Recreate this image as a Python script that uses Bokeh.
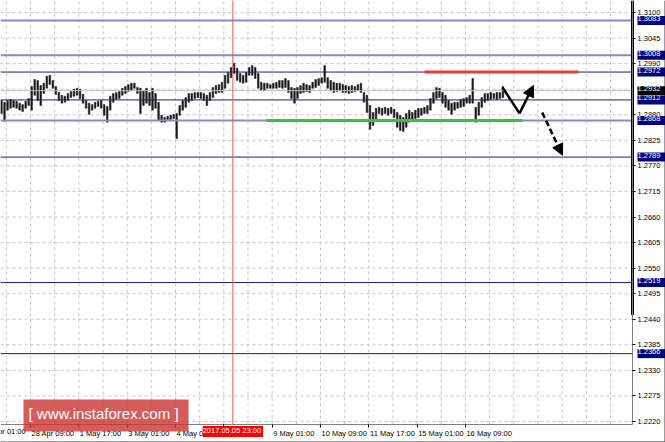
from bokeh.plotting import figure
from bokeh.models import (Range1d, FixedTicker, Label, Arrow, NormalHead, LinearAxis,
                          NumeralTickFormatter, ColumnDataSource)
from bokeh.embed import file_html
from bokeh.resources import INLINE

# ---------------- data (GBP/USD H1; one bar per 2 hours) ----------------
bar_hours = list(range(0, 334, 2))
bar_high = [
    1.2911, 1.2907, 1.2911, 1.2913, 1.2911, 1.2909, 1.2905, 1.2902, 1.2909, 1.2915, 1.2941, 1.2956, 1.2954, 1.2943, 1.2948,
    1.2963, 1.2965, 1.2954, 1.2941, 1.2928, 1.2922, 1.2920, 1.2926, 1.2930, 1.2935, 1.2937, 1.2935, 1.2924, 1.2911, 1.2905,
    1.2902, 1.2907, 1.2909, 1.2911, 1.2902, 1.2898, 1.2920, 1.2926, 1.2928, 1.2930, 1.2937, 1.2941, 1.2945,
    1.2948, 1.2948, 1.2939, 1.2937, 1.2932, 1.2937, 1.2928, 1.2937, 1.2926, 1.2907, 1.2879, 1.2874, 1.2877, 1.2879, 1.2881,
    1.2883, 1.2900, 1.2911, 1.2917, 1.2926, 1.2926, 1.2928, 1.2928, 1.2928, 1.2926, 1.2922, 1.2928, 1.2939, 1.2943, 1.2945,
    1.2950, 1.2965, 1.2971, 1.2982, 1.2991, 1.2980, 1.2969, 1.2965, 1.2971, 1.2982, 1.2986,
    1.2982, 1.2969, 1.2950, 1.2948, 1.2948, 1.2945, 1.2948, 1.2950, 1.2954, 1.2954, 1.2958, 1.2954, 1.2939, 1.2937, 1.2939,
    1.2943, 1.2948, 1.2945, 1.2943, 1.2950, 1.2956, 1.2958, 1.2960, 1.2986, 1.2960, 1.2954, 1.2950, 1.2948, 1.2948, 1.2945,
    1.2943, 1.2941, 1.2943, 1.2941, 1.2945, 1.2948, 1.2928, 1.2922, 1.2900, 1.2885, 1.2894,
    1.2896, 1.2894, 1.2896, 1.2894, 1.2896, 1.2892, 1.2885, 1.2879, 1.2874, 1.2883, 1.2890, 1.2885, 1.2890, 1.2894, 1.2894,
    1.2896, 1.2900, 1.2915, 1.2928, 1.2939, 1.2937, 1.2928, 1.2922, 1.2911, 1.2905, 1.2907, 1.2907, 1.2913, 1.2915, 1.2917,
    1.2922, 1.2958, 1.2896, 1.2907, 1.2917, 1.2926, 1.2926, 1.2928, 1.2926, 1.2928, 1.2928, 1.2941,
]
bar_low = [
    1.2883, 1.2866, 1.2890, 1.2894, 1.2896, 1.2894, 1.2890, 1.2887, 1.2894, 1.2900, 1.2890, 1.2922, 1.2911, 1.2900, 1.2926,
    1.2937, 1.2945, 1.2937, 1.2924, 1.2911, 1.2905, 1.2907, 1.2911, 1.2917, 1.2920, 1.2922, 1.2915, 1.2905, 1.2894, 1.2881,
    1.2890, 1.2894, 1.2898, 1.2894, 1.2879, 1.2864, 1.2890, 1.2907, 1.2913, 1.2915, 1.2922, 1.2926, 1.2930,
    1.2932, 1.2937, 1.2926, 1.2883, 1.2900, 1.2905, 1.2900, 1.2890, 1.2894, 1.2868, 1.2864, 1.2864, 1.2868, 1.2870, 1.2872,
    1.2829, 1.2879, 1.2890, 1.2896, 1.2907, 1.2911, 1.2915, 1.2917, 1.2915, 1.2911, 1.2900, 1.2911, 1.2917, 1.2926, 1.2928,
    1.2928, 1.2937, 1.2948, 1.2960, 1.2969, 1.2954, 1.2950, 1.2948, 1.2950, 1.2965, 1.2965,
    1.2958, 1.2937, 1.2932, 1.2932, 1.2937, 1.2937, 1.2937, 1.2937, 1.2939, 1.2937, 1.2939, 1.2928, 1.2915, 1.2905, 1.2915,
    1.2926, 1.2928, 1.2930, 1.2928, 1.2937, 1.2939, 1.2943, 1.2948, 1.2950, 1.2937, 1.2932, 1.2928, 1.2930, 1.2932, 1.2928,
    1.2928, 1.2926, 1.2928, 1.2930, 1.2932, 1.2928, 1.2907, 1.2885, 1.2849, 1.2857, 1.2868,
    1.2883, 1.2879, 1.2883, 1.2879, 1.2883, 1.2874, 1.2853, 1.2846, 1.2844, 1.2853, 1.2864, 1.2868, 1.2872, 1.2874, 1.2879,
    1.2883, 1.2883, 1.2890, 1.2905, 1.2915, 1.2917, 1.2905, 1.2896, 1.2890, 1.2881, 1.2890, 1.2894, 1.2896, 1.2898, 1.2905,
    1.2905, 1.2905, 1.2864, 1.2879, 1.2896, 1.2907, 1.2911, 1.2913, 1.2915, 1.2913, 1.2915, 1.2917,
]
assert len(bar_hours) == len(bar_high) == len(bar_low)

level_prices = [1.3083, 1.3008, 1.2972, 1.2912, 1.2868, 1.2789, 1.2519, 1.2366]
level_strong = [True, True, False, False, True, False, False, False]
current_price = 1.2932

price_ticks = [1.3100, 1.3045, 1.2990, 1.2935, 1.2880, 1.2825, 1.2770, 1.2715, 1.2660,
               1.2605, 1.2550, 1.2495, 1.2440, 1.2385, 1.2330, 1.2275, 1.2220]

time_tick_hours = [-12.8, 19.2, 51.2, 83.2, 115.2, 147.2, 179.2, 211.2, 243.2, 275.2, 307.2]
time_tick_labels = ["27 Apr 01:00", "28 Apr 09:00", "1 May 17:00", "3 May 01:00", "4 May 09:00",
                    "5 May 17:00", "9 May 01:00", "10 May 09:00", "11 May 17:00", "15 May 01:00",
                    "16 May 09:00"]

marker_hour = 153.2
marker_label = "2017.05.05 23:00"

support_hours = [175.4, 344.9]
support_price = 1.2868
resistance_hours = [280.1, 382.0]
resistance_price = 1.2972
up_path_hours = [331.7, 343.0, 352.2]
up_path_prices = [1.2939, 1.2883, 1.2943]
down_path_hours = [358.0, 371.4]
down_path_prices = [1.2885, 1.2793]
scroll_bottom_price = 1.2449

# ---------------- geometry ----------------
W, H = 665, 442
PLOT_W, PLOT_H = 632, 424          # price area; the rest is the axis strips
x_lo, x_plot_hi = -0.66, 417.8
y_plot_lo, y_hi = 1.22135, 1.3126
px_per_hour = PLOT_W / (x_plot_hi - x_lo)
px_per_unit = PLOT_H / (y_hi - y_plot_lo)
x_full_hi = x_lo + W / px_per_hour
y_full_lo = y_hi - H / px_per_unit

FONT = "Liberation Sans"
FS = "7.5px"
FS_PX = 7.5

p = figure(width=W, height=H, output_backend="svg", toolbar_location=None,
           x_range=Range1d(x_lo, x_full_hi), y_range=Range1d(y_full_lo, y_hi),
           x_axis_type=None, y_axis_type=None, min_border=0,
           background_fill_color="white", border_fill_color="white",
           outline_line_color=None)

# ---------------- grid (dashed, limited to the price area) ----------------
grid_hours = [time_tick_hours[0] + 16 * k for k in range(28)]
grid_hours = [g for g in grid_hours if x_lo < g < x_plot_hi]
p.segment(x0=grid_hours, x1=grid_hours, y0=[y_plot_lo] * len(grid_hours), y1=[y_hi] * len(grid_hours),
          line_color="#c4c4c4", line_dash="3 3", line_width=1)
p.segment(x0=[x_lo] * len(price_ticks), x1=[x_plot_hi] * len(price_ticks), y0=price_ticks, y1=price_ticks,
          line_color="#c4c4c4", line_dash="3 3", line_width=1)

# ---------------- bars ----------------
src = ColumnDataSource(dict(x=bar_hours, high=bar_high, low=bar_low))
p.vbar(x="x", top="high", bottom="low", width=1.1, source=src,
       fill_color="#1a1a1a", line_color="#1a1a1a", line_width=0.5)

# ---------------- horizontal levels ----------------
lv = ColumnDataSource(dict(
    y=level_prices,
    x0=[x_lo] * len(level_prices), x1=[x_plot_hi] * len(level_prices),
    color=["#8a8ac6" if s else "#1c1c84" for s in level_strong],
    lw=[2 if s else 1 for s in level_strong]))
p.segment(x0="x0", x1="x1", y0="y", y1="y", line_color="color", line_width="lw", source=lv)
p.segment(x0=[x_lo], x1=[x_plot_hi], y0=[current_price], y1=[current_price],
          line_color="#bdbdbd", line_width=1)
p.segment(x0=[marker_hour], x1=[marker_hour], y0=[y_plot_lo], y1=[y_hi],
          line_color="#ff4d4d", line_width=1)

# support / resistance
p.line(support_hours, [support_price] * 2, line_color="#35c435", line_width=3)
p.line(resistance_hours, [resistance_price] * 2, line_color="#ee3b3b", line_width=3)

# forecast arrows
p.line(up_path_hours[:2], up_path_prices[:2], line_color="black", line_width=2.5)
p.add_layout(Arrow(x_start=up_path_hours[1], y_start=up_path_prices[1],
                   x_end=up_path_hours[2], y_end=up_path_prices[2],
                   line_color="black", line_width=2.5,
                   end=NormalHead(size=11, fill_color="black", line_color="black")))
p.add_layout(Arrow(x_start=down_path_hours[0], y_start=down_path_prices[0],
                   x_end=down_path_hours[1], y_end=down_path_prices[1],
                   line_color="black", line_width=2.5, line_dash="6 3",
                   end=NormalHead(size=11, fill_color="black", line_color="black")))

# ---------------- axes (fixed inside the canvas) ----------------
yax = LinearAxis(fixed_location=x_plot_hi, bounds=(y_plot_lo, y_hi))
yax.ticker = FixedTicker(ticks=[t for t in price_ticks if abs(t - current_price) > 0.0005])
yax.formatter = NumeralTickFormatter(format="0.0000")
yax.major_tick_out = 3
yax.major_tick_in = 0
yax.minor_tick_out = 0
yax.minor_tick_in = 0
yax.major_label_standoff = 2
yax.major_label_text_font = FONT
yax.major_label_text_font_size = FS
yax.major_label_text_color = "black"
yax.axis_line_color = "#808080"
yax.major_tick_line_color = "black"
p.add_layout(yax, "right")

EM = {" ": .278, ":": .278, ".": .278, "A": .667, "M": .833, "p": .556, "r": .333, "a": .556, "y": .5}
def text_w(s):
    return sum(EM.get(c, .556) for c in s) * FS_PX

label_centres = [h + (text_w(t) / 2 + 1) / px_per_hour for h, t in zip(time_tick_hours, time_tick_labels)]
shown = [(c, t) for c, t in zip(label_centres, time_tick_labels)
         if t != "5 May 17:00" and c - (text_w(t) / 2) / px_per_hour > x_lo]
xax = LinearAxis(fixed_location=y_plot_lo, bounds=(x_lo, x_plot_hi))
xax.ticker = FixedTicker(ticks=[c for c, _ in shown],
                         minor_ticks=[h for h in time_tick_hours if h > x_lo])
xax.major_label_overrides = {c: t for c, t in shown}
xax.major_tick_out = 0
xax.major_tick_in = 0
xax.minor_tick_out = 3
xax.minor_tick_in = 0
xax.minor_tick_line_color = "black"
xax.major_label_standoff = 1
xax.major_label_text_font = FONT
xax.major_label_text_font_size = FS
xax.major_label_text_color = "black"
xax.axis_line_color = "#808080"
p.add_layout(xax, "below")

# first time label, partly cut off by the left edge as in the terminal
p.add_layout(Label(x=time_tick_hours[0], y=y_plot_lo, x_offset=1, y_offset=-7,
                   text=time_tick_labels[0], text_align="left", text_baseline="middle",
                   text_color="black", text_font=FONT, text_font_size=FS))

# thick right border strip
p.segment(x0=[x_plot_hi], y0=[scroll_bottom_price], x1=[x_plot_hi], y1=[y_hi],
          line_color="black", line_width=3)

# window edge (bottom and right)
p.segment(x0=[x_lo, x_full_hi], y0=[y_full_lo, y_full_lo], x1=[x_full_hi, x_full_hi], y1=[y_full_lo, y_hi],
          line_color="#3a3a3a", line_width=2)

# price boxes on the right axis
for lvl in level_prices:
    p.add_layout(Label(x=x_plot_hi, y=lvl, x_offset=5, text=f"{lvl:.4f}",
                       text_align="left", text_baseline="middle",
                       text_color="white", text_font=FONT, text_font_size=FS,
                       background_fill_color="#00007c", padding=(0, 5, 0, 4)))
p.add_layout(Label(x=x_plot_hi, y=current_price, x_offset=5, text=f"{current_price:.4f}",
                   text_align="left", text_baseline="middle",
                   text_color="white", text_font=FONT, text_font_size=FS,
                   background_fill_color="black", padding=(0, 5, 0, 4)))

# red time box
p.add_layout(Label(x=marker_hour, y=y_plot_lo, y_offset=-7, text=marker_label,
                   text_align="center", text_baseline="middle",
                   text_color="white", text_font=FONT, text_font_size=FS,
                   background_fill_color="#ff0000", padding=(0, 2, 0, 2)))

# logo
p.add_layout(Label(x=x_lo, y=y_plot_lo, x_offset=23, y_offset=9,
                   text="[ www.instaforex.com ]",
                   text_align="left", text_baseline="middle",
                   text_color="white", text_font=FONT, text_font_size="15px",
                   background_fill_color="#cc3333", background_fill_alpha=0.8,
                   padding=(5, 10, 5, 10)))

open("out.html", "w").write(file_html(p, INLINE))
